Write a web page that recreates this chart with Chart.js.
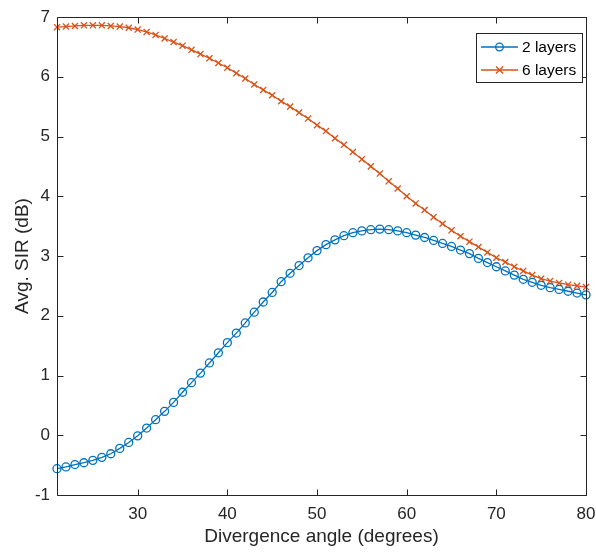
<!DOCTYPE html>
<html>
<head>
<meta charset="utf-8">
<script src="https://cdn.jsdelivr.net/npm/chart.js@4/dist/chart.umd.min.js"></script>
<style>
  html, body { margin:0; padding:0; background:#fff; }
  #wrap { width:596px; height:556px; }
</style>
</head>
<body>
<div id="wrap"><canvas id="sirChart"></canvas></div>
<script>
// Divergence angle (degrees)
const angles = [21,22,23,24,25,26,27,28,29,30,31,32,33,34,35,36,37,38,39,40,
                41,42,43,44,45,46,47,48,49,50,51,52,53,54,55,56,57,58,59,60,
                61,62,63,64,65,66,67,68,69,70,71,72,73,74,75,76,77,78,79,80];

// Avg. SIR (dB)
const twoLayers = [-0.56,-0.53,-0.49,-0.46,-0.42,-0.37,-0.31,-0.22,-0.12,-0.01,
                   0.12,0.26,0.40,0.55,0.72,0.88,1.04,1.21,1.38,1.55,
                   1.71,1.88,2.06,2.23,2.39,2.57,2.71,2.84,2.97,3.09,
                   3.19,3.27,3.34,3.39,3.42,3.44,3.45,3.44,3.42,3.39,
                   3.35,3.31,3.26,3.21,3.16,3.10,3.04,2.96,2.89,2.82,
                   2.75,2.68,2.61,2.56,2.51,2.47,2.44,2.41,2.38,2.35];
const sixLayers = [6.83,6.84,6.85,6.86,6.86,6.86,6.85,6.84,6.82,6.79,
                   6.75,6.70,6.64,6.58,6.52,6.45,6.38,6.31,6.23,6.15,
                   6.06,5.97,5.87,5.78,5.69,5.59,5.50,5.40,5.30,5.19,
                   5.09,4.97,4.86,4.74,4.62,4.50,4.38,4.25,4.13,4.00,
                   3.88,3.77,3.65,3.54,3.43,3.33,3.24,3.15,3.06,2.97,
                   2.90,2.82,2.75,2.68,2.62,2.58,2.55,2.52,2.50,2.48];

const xTicks = [30,40,50,60,70,80];
const yTicks = [-1,0,1,2,3,4,5,6,7];
const seriesNames = ['2 layers','6 layers'];

const BLUE = '#0072BD';
const ORANGE = '#D95319';
const AXIS = '#262626';
const FONT = '"Liberation Sans", Arial, Helvetica, sans-serif';

// box + inward ticks, like matlab axes
const boxPlugin = {
    id:'box',
    afterDraw(chart) {
        const {ctx, chartArea:a, scales:{x, y}} = chart;
        const L = Math.round(a.left)+0.5, R = Math.round(a.right)+0.5;
        const T = Math.round(a.top)+0.5, B = Math.round(a.bottom)+0.5;
        const tl = 6;
        ctx.save();
        ctx.strokeStyle = AXIS;
        ctx.lineWidth = 1;
        ctx.beginPath();
        ctx.rect(L, T, R-L, B-T);
        xTicks.forEach(v=>{
            const px = Math.round(x.getPixelForValue(v))+0.5;
            ctx.moveTo(px, B); ctx.lineTo(px, B-tl);
            ctx.moveTo(px, T); ctx.lineTo(px, T+tl);
        });
        yTicks.forEach(v=>{
            const py = Math.round(y.getPixelForValue(v))+0.5;
            ctx.moveTo(L, py); ctx.lineTo(L+tl, py);
            ctx.moveTo(R, py); ctx.lineTo(R-tl, py);
        });
        ctx.stroke();
        ctx.restore();
    }
};

// legend box in the upper right corner
const legendPlugin = {
    id:'boxLegend',
    afterDraw(chart) {
        const ctx = chart.ctx;
        const bx = 476.5, by = 33.5, bw = 106, bh = 49;
        ctx.save();
        ctx.fillStyle = '#fff';
        ctx.fillRect(bx, by, bw, bh);
        ctx.strokeStyle = AXIS;
        ctx.lineWidth = 1;
        ctx.strokeRect(bx, by, bw, bh);
        ctx.font = '15.5px ' + FONT;
        ctx.textBaseline = 'middle';
        chart.data.datasets.forEach((ds, i)=>{
            const ry = 47 + i*23;
            ctx.strokeStyle = ds.borderColor;
            ctx.lineWidth = 1.3;
            ctx.beginPath();
            ctx.moveTo(481, ry); ctx.lineTo(518, ry);
            ctx.stroke();
            if (ds.pointStyle === 'circle') {
                ctx.beginPath();
                ctx.arc(499.5, ry, 3.8, 0, Math.PI*2);
                ctx.stroke();
            } else {
                ctx.beginPath();
                ctx.moveTo(496, ry-3.5); ctx.lineTo(503, ry+3.5);
                ctx.moveTo(503, ry-3.5); ctx.lineTo(496, ry+3.5);
                ctx.stroke();
            }
            ctx.fillStyle = '#000';
            ctx.fillText(ds.label, 522, ry+1);
        });
        ctx.restore();
    }
};

const ctx = document.getElementById('sirChart').getContext('2d');
const chart = new Chart(ctx, {
    type:'line',
    data:{
        labels: angles,
        datasets:[
            {
                label: seriesNames[0],
                data: angles.map((a,i)=>({x:a, y:twoLayers[i]})),
                borderColor: BLUE,
                backgroundColor: 'transparent',
                borderWidth: 1.3,
                pointStyle: 'circle',
                pointRadius: 4,
                pointBorderWidth: 1.3,
                pointBorderColor: BLUE,
                pointBackgroundColor: 'transparent',
                tension: 0,
                clip: false
            },
            {
                label: seriesNames[1],
                data: angles.map((a,i)=>({x:a, y:sixLayers[i]})),
                borderColor: ORANGE,
                backgroundColor: 'transparent',
                borderWidth: 1.3,
                pointStyle: 'crossRot',
                pointRadius: 4.3,
                pointBorderWidth: 1.3,
                pointBorderColor: ORANGE,
                tension: 0,
                clip: false
            }
        ]
    },
    options:{
        responsive:true,
        maintainAspectRatio:false,
        animation:false,
        events:[],
        layout:{ padding:{ left:0, right:10, top:17, bottom:0 } },
        plugins:{ legend:{display:false}, tooltip:{enabled:false} },
        scales:{
            x:{
                type:'linear',
                min:21, max:80,
                afterBuildTicks(scale){ scale.ticks = xTicks.map(v=>({value:v})); },
                afterFit(scale){ scale.height = 61; scale.paddingLeft = 0; scale.paddingRight = 0; },
                grid:{display:false, drawTicks:false},
                border:{display:false},
                ticks:{ color:AXIS, padding:9, font:{family:FONT, size:17}, maxRotation:0 },
                title:{ display:true, text:'Divergence angle (degrees)', color:AXIS,
                        font:{family:FONT, size:19}, padding:{top:0, bottom:8} }
            },
            y:{
                type:'linear',
                min:-1, max:7,
                afterBuildTicks(scale){ scale.ticks = yTicks.map(v=>({value:v})); },
                afterFit(scale){ scale.width = 57; scale.paddingTop = 0; scale.paddingBottom = 0; },
                grid:{display:false, drawTicks:false},
                border:{display:false},
                ticks:{ color:AXIS, padding:7, font:{family:FONT, size:17} },
                title:{ display:true, text:'Avg. SIR (dB)', color:AXIS,
                        font:{family:FONT, size:19}, padding:{top:11, bottom:0} }
            }
        }
    },
    plugins:[boxPlugin, legendPlugin]
});
</script>
</body>
</html>
